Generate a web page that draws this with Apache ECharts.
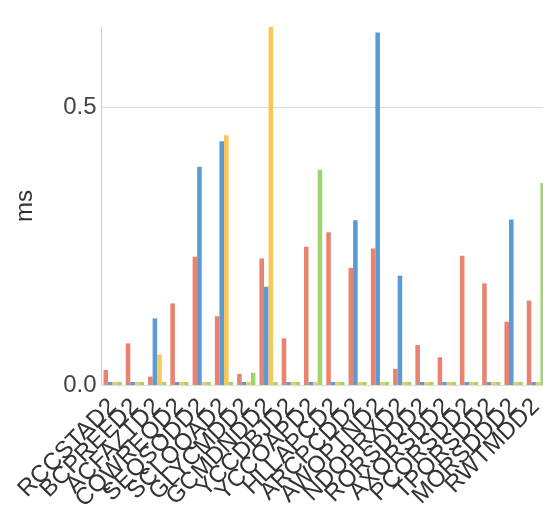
<!DOCTYPE html>
<html>
<head>
<meta charset="utf-8">
<style>html,body{margin:0;padding:0;background:#fff;}#c{width:543px;height:505px;}</style>
<script src="https://cdn.jsdelivr.net/npm/echarts@6/dist/echarts.min.js"></script>
</head>
<body>
<div id="c"></div>
<script>
var categories = ['RCCSTAD2','BCPREFD2','ACFAZTD2','CQWREQD2','SEQSODD2','SCLOQAD2','GLYCMDD2','GCMDNDD2','YCCDBJD2','YCCOAPD2','HLLAPCD2','ARCPCDD2','AWOPTND2','NDOPRXD2','RORSDDD2','AXORSDD2','PCORSDD2','TPORSDD2','MORSDDD2','RWTMDD2'];
var seriesRed    = [0.027,0.075,0.015,0.147,0.231,0.124,0.020,0.228,0.084,0.249,0.275,0.211,0.246,0.029,0.072,0.050,0.233,0.183,0.114,0.152];
var seriesBlue   = [0,0,0.120,0,0.393,0.439,0,0.177,0,0,0,0.297,0.635,0.197,0,0,0,0,0.298,0];
var seriesYellow = [0,0,0.055,0,0,0.450,0,0.645,0,0,0,0,0,0,0,0,0,0,0,0];
var seriesGreen  = [0,0,0,0,0,0,0.022,0,0,0.388,0,0,0,0,0,0,0,0,0,0.364];
var yTicks = [0, 0.5];

var font = 'Liberation Sans, Arial, sans-serif';
var colors = ['#e8836f','#5b9bd3','#f6c85a','#9fd46e'];
function mk(data, i){
  return {type:'bar', data:data, barGap:'0%', barCategoryGap:'18%', barMinHeight:3,
    itemStyle:{color:colors[i]}, silent:true};
}
var chart = echarts.init(document.getElementById('c'), null, {renderer:'canvas'});
chart.setOption({
  animation:false,
  grid:{left:101.5, top:27, bottom:120, right:-4, containLabel:false, outerBoundsMode:'none'},
  xAxis:{type:'category', data:categories,
    axisLine:{show:true, lineStyle:{color:'#dddddd'}},
    axisTick:{show:false},
    axisLabel:{interval:0, rotate:45, fontSize:24, fontFamily:font, color:'#333', margin:18}},
  yAxis:{type:'value', min:yTicks[0], max:'dataMax', interval:yTicks[1]-yTicks[0],
    name:'ms', nameLocation:'middle', nameGap:64, nameRotate:90,
    nameTextStyle:{fontSize:24, fontFamily:font, color:'#333'},
    axisLine:{show:true, lineStyle:{color:'#cccccc'}},
    axisTick:{show:false},
    axisLabel:{fontSize:24, fontFamily:font, color:'#444', margin:5, showMaxLabel:false,
      formatter:function(v){return v.toFixed(1);}},
    splitLine:{show:true, showMaxLine:false, lineStyle:{color:'#dcdcdc'}}},
  series:[mk(seriesRed,0), mk(seriesBlue,1), mk(seriesYellow,2), mk(seriesGreen,3)]
});
</script>
</body>
</html>
